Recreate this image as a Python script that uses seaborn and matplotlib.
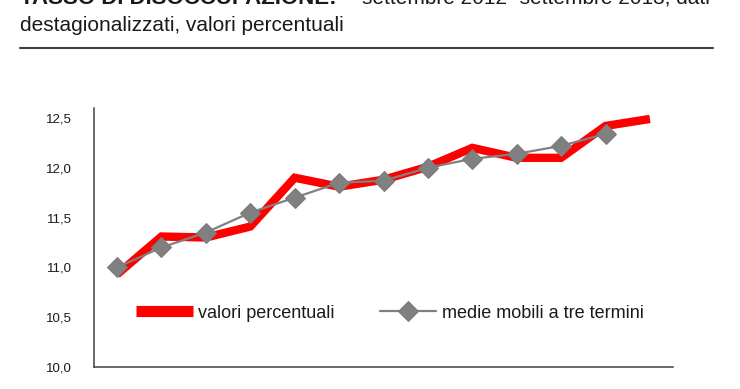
import matplotlib
matplotlib.use("Agg")
import matplotlib.pyplot as plt
import seaborn as sns
import pandas as pd
import numpy as np
from matplotlib.lines import Line2D

# valori (set 2012 - set 2013)
mesi = ['set-12', 'ott-12', 'nov-12', 'dic-12', 'gen-13', 'feb-13', 'mar-13',
        'apr-13', 'mag-13', 'giu-13', 'lug-13', 'ago-13', 'set-13']
valori = [10.93, 11.31, 11.30, 11.41, 11.90, 11.81, 11.88, 12.01, 12.20, 12.10, 12.10, 12.42, 12.49]
medie = [11.00, 11.20, 11.35, 11.55, 11.70, 11.85, 11.87, 12.00, 12.09, 12.14, 12.22, 12.34, np.nan]
yticks = [10.0, 10.5, 11.0, 11.5, 12.0, 12.5]

df = pd.DataFrame({'pos': range(len(mesi)), 'mese': mesi,
                   'valori': valori, 'medie': medie})

sns.set_theme(style="white")
plt.rcParams['font.family'] = ['Liberation Sans', 'DejaVu Sans']

fig = plt.figure(figsize=(7.4, 3.89), dpi=100)
ax = fig.add_axes([94 / 740, 1 - 367 / 389, (673 - 94) / 740, (367 - 108) / 389])

sns.lineplot(data=df, x='pos', y='valori', ax=ax, color='#ff0000', linewidth=6,
             label='valori percentuali', solid_joinstyle='miter', solid_capstyle='butt')
sns.lineplot(data=df.dropna(), x='pos', y='medie', ax=ax, color='#808080', linewidth=1.6,
             marker='D', markersize=10, markeredgecolor='#7a7a7a',
             label='medie mobili a tre termini')

ax.set_xlim(-0.52, 12.52)
ax.set_ylim(10.0, 12.6)
ax.set_yticks(yticks)
ax.set_yticklabels([f'{v:.1f}'.replace('.', ',') for v in yticks])
ax.set_xticks([])
ax.set_xlabel('')
ax.set_ylabel('')
for s in ['top', 'right']:
    ax.spines[s].set_visible(False)
for s in ['left', 'bottom']:
    ax.spines[s].set_color('#404040')
    ax.spines[s].set_linewidth(1.1)
ax.tick_params(axis='y', direction='inout', length=9.4, width=1.1, color='#404040',
               labelsize=9.5, labelcolor='#1a1a1a', pad=11)

leg = ax.legend(loc='center left', bbox_to_anchor=(136 / 740, 1 - 313 / 389),
                bbox_transform=fig.transFigure, ncol=2, frameon=False, fontsize=13,
                borderpad=0, borderaxespad=0, handlelength=3.15, handletextpad=0.28,
                columnspacing=2.5)
leg.get_lines()[0].set_solid_capstyle('butt')
leg.get_lines()[0].set_linewidth(8)
for t in leg.get_texts():
    t.set_color('#1a1a1a')

# titolo (prima riga tagliata in alto, come nell'originale)
fig.text(20 / 740, 1 - 4 / 389, 'TASSO DI DISOCCUPAZIONE:', fontsize=16,
         fontweight='bold', va='baseline', ha='left', color='#1a1a1a')
fig.text(710 / 740, 1 - 4 / 389, 'settembre 2012- settembre 2013, dati', fontsize=15,
         va='baseline', ha='right', color='#1a1a1a')
fig.text(20 / 740, 1 - 31 / 389, 'destagionalizzati, valori percentuali', fontsize=15,
         va='baseline', ha='left', color='#1a1a1a')
fig.add_artist(Line2D([20 / 740, 713 / 740], [1 - 48 / 389, 1 - 48 / 389],
                      transform=fig.transFigure, color='#404040', linewidth=1.5))

fig.savefig('out.png', dpi=100)
